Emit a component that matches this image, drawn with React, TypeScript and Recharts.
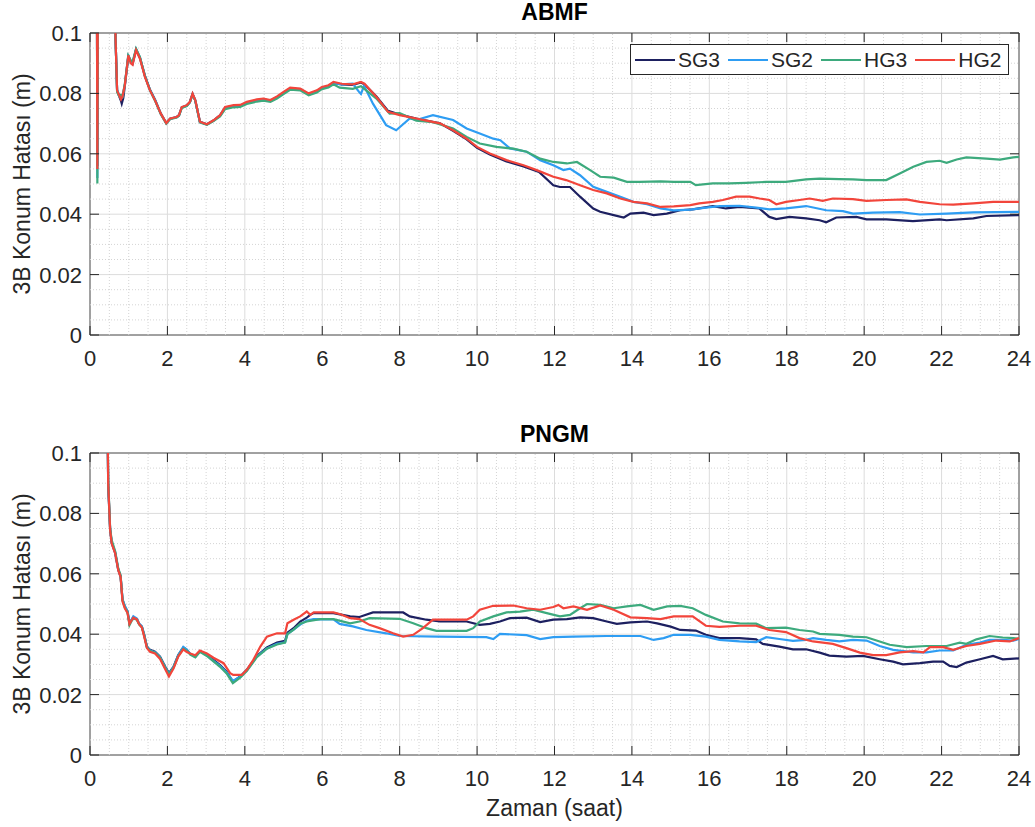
import React from "react";
import {
  LineChart,
  Line,
  XAxis,
  YAxis,
  CartesianGrid,
  ReferenceLine,
  ReferenceArea,
} from "recharts";

// time (saat) vs 3B position error (m)
const abmfSG3: [number, number][] = [
  [0.17, 0.16], [0.19, 0.056], [0.21, 0.16], [0.6, 0.15], [0.66, 0.098], [0.7, 0.081], [0.75, 0.0792],
  [0.8, 0.0775], [0.82, 0.0766], [0.86, 0.0785], [0.9, 0.0825], [0.99, 0.0922], [1.05, 0.0905], [1.1, 0.0898],
  [1.19, 0.0945], [1.29, 0.0918], [1.42, 0.0858], [1.55, 0.0812], [1.68, 0.0779], [1.83, 0.0733], [1.97, 0.0702],
  [2.07, 0.0716], [2.24, 0.0722], [2.3, 0.0728], [2.37, 0.0753], [2.5, 0.076], [2.58, 0.0771], [2.65, 0.0798],
  [2.72, 0.0776], [2.84, 0.0706], [3.02, 0.0698], [3.19, 0.071], [3.36, 0.0727], [3.49, 0.0752], [3.71, 0.0758],
  [3.88, 0.0759], [4.05, 0.0769], [4.31, 0.0777], [4.48, 0.078], [4.66, 0.0775], [4.83, 0.0787], [5.0, 0.0802],
  [5.17, 0.0816], [5.43, 0.0813], [5.65, 0.0797], [5.86, 0.0807], [5.99, 0.0818], [6.16, 0.0824], [6.29, 0.0835],
  [6.5, 0.083], [6.79, 0.0828], [7.0, 0.0836], [7.09, 0.083], [7.4, 0.079], [7.7, 0.0742], [8.0, 0.073],
  [8.43, 0.0717], [8.69, 0.071], [9.04, 0.0701], [9.38, 0.0676], [9.73, 0.0648], [10.0, 0.062], [10.33, 0.0598],
  [10.76, 0.0575], [11.2, 0.0558], [11.6, 0.054], [11.97, 0.0496], [12.14, 0.049], [12.4, 0.049], [12.66, 0.0458],
  [13.0, 0.0419], [13.18, 0.0408], [13.53, 0.0397], [13.79, 0.0389], [13.96, 0.0402], [14.3, 0.0405], [14.56, 0.0397],
  [14.9, 0.0402], [15.25, 0.0413], [15.57, 0.0416], [16.09, 0.0427], [16.43, 0.0419], [16.78, 0.0424], [17.29, 0.0419],
  [17.55, 0.0391], [17.73, 0.0384], [18.07, 0.0391], [18.5, 0.0386], [18.85, 0.038], [19.02, 0.0373], [19.28, 0.0389],
  [19.8, 0.0391], [20.06, 0.0383], [20.57, 0.0383], [21.26, 0.0377], [21.95, 0.0383], [22.13, 0.038], [22.82, 0.0386],
  [23.16, 0.0394], [24, 0.0397],
];

const abmfSG2: [number, number][] = [
  [0.17, 0.16], [0.19, 0.052], [0.21, 0.16], [0.6, 0.15], [0.66, 0.098], [0.7, 0.0812], [0.75, 0.0795],
  [0.8, 0.0782], [0.84, 0.0788], [0.9, 0.0828], [0.99, 0.0928], [1.05, 0.0906], [1.1, 0.09], [1.19, 0.0946],
  [1.29, 0.0919], [1.42, 0.0857], [1.55, 0.0811], [1.68, 0.0778], [1.83, 0.0732], [1.97, 0.0701], [2.07, 0.0716],
  [2.24, 0.0721], [2.3, 0.0727], [2.37, 0.0754], [2.5, 0.076], [2.58, 0.0771], [2.65, 0.0798], [2.72, 0.0777],
  [2.84, 0.0705], [3.02, 0.0697], [3.19, 0.071], [3.36, 0.0727], [3.49, 0.0753], [3.71, 0.0758], [3.88, 0.0759],
  [4.05, 0.0769], [4.31, 0.0777], [4.48, 0.078], [4.66, 0.0776], [4.83, 0.0787], [5.0, 0.0802], [5.17, 0.0816],
  [5.43, 0.0814], [5.65, 0.0797], [5.86, 0.0807], [5.99, 0.0818], [6.16, 0.0825], [6.29, 0.0834], [6.5, 0.083],
  [6.79, 0.0832], [6.95, 0.0805], [7.0, 0.0798], [7.08, 0.0825], [7.31, 0.0766], [7.65, 0.0695], [7.91, 0.0678],
  [8.0, 0.0688], [8.26, 0.0717], [8.43, 0.0712], [8.86, 0.0728], [9.38, 0.0712], [9.73, 0.0684], [10.07, 0.0667],
  [10.42, 0.065], [10.6, 0.0645], [10.85, 0.0618], [11.28, 0.0607], [11.63, 0.0579], [11.97, 0.0562], [12.23, 0.0546],
  [12.4, 0.0551], [12.66, 0.0529], [13.0, 0.0491], [13.35, 0.0474], [13.7, 0.0458], [14.04, 0.0441], [14.39, 0.0433],
  [14.74, 0.0419], [15.08, 0.0413], [15.51, 0.0415], [15.91, 0.0422], [16.26, 0.0427], [16.78, 0.0428], [17.21, 0.0422],
  [17.55, 0.0416], [17.98, 0.0419], [18.5, 0.0427], [19.02, 0.0413], [19.45, 0.041], [19.71, 0.0402], [20.23, 0.0405],
  [20.92, 0.0407], [21.44, 0.0399], [22.13, 0.0402], [22.82, 0.0406], [24, 0.0408],
];

const abmfHG3: [number, number][] = [
  [0.17, 0.16], [0.19, 0.0502], [0.21, 0.16], [0.6, 0.15], [0.66, 0.098], [0.7, 0.0805], [0.75, 0.0792],
  [0.8, 0.0795], [0.84, 0.079], [0.9, 0.0832], [0.99, 0.0925], [1.05, 0.091], [1.1, 0.0905], [1.19, 0.0948],
  [1.29, 0.092], [1.42, 0.0857], [1.55, 0.081], [1.68, 0.0776], [1.83, 0.0731], [1.97, 0.07], [2.07, 0.0715],
  [2.24, 0.072], [2.3, 0.0726], [2.37, 0.0752], [2.5, 0.0758], [2.58, 0.077], [2.65, 0.0797], [2.72, 0.0776],
  [2.84, 0.0704], [3.02, 0.0696], [3.19, 0.0708], [3.36, 0.0724], [3.49, 0.0748], [3.71, 0.0754], [3.88, 0.0755],
  [4.05, 0.0765], [4.31, 0.0773], [4.48, 0.0776], [4.66, 0.0772], [4.83, 0.0783], [5.0, 0.0798], [5.17, 0.0812],
  [5.43, 0.081], [5.65, 0.0794], [5.86, 0.0803], [5.99, 0.0814], [6.16, 0.082], [6.29, 0.083], [6.45, 0.0819],
  [6.79, 0.0815], [7.0, 0.0824], [7.4, 0.0783], [7.74, 0.0733], [8.0, 0.0735], [8.43, 0.071], [8.86, 0.0705],
  [9.38, 0.0684], [9.73, 0.0656], [10.07, 0.0634], [10.5, 0.0623], [10.94, 0.0617], [11.28, 0.0607], [11.63, 0.0584],
  [11.97, 0.0573], [12.32, 0.0568], [12.58, 0.0573], [12.92, 0.0546], [13.18, 0.0524], [13.53, 0.0521], [13.87, 0.0507],
  [14.2, 0.0507], [14.74, 0.0509], [15.08, 0.0507], [15.51, 0.0507], [15.65, 0.0496], [16.09, 0.0502], [16.52, 0.0502],
  [16.95, 0.0504], [17.47, 0.0507], [17.98, 0.0507], [18.5, 0.0515], [18.85, 0.0518], [19.36, 0.0516], [19.71, 0.0515],
  [20.06, 0.0513], [20.57, 0.0513], [20.92, 0.0535], [21.27, 0.0557], [21.61, 0.0573], [21.95, 0.0577], [22.13, 0.057],
  [22.39, 0.0581], [22.64, 0.0588], [23.16, 0.0584], [23.51, 0.0581], [23.85, 0.0588], [24, 0.059],
];

const abmfHG2: [number, number][] = [
  [0.17, 0.16], [0.19, 0.055], [0.21, 0.16], [0.6, 0.15], [0.66, 0.098], [0.7, 0.081], [0.75, 0.0795],
  [0.8, 0.078], [0.84, 0.079], [0.9, 0.0827], [0.99, 0.0926], [1.05, 0.09], [1.1, 0.0895], [1.19, 0.0943],
  [1.29, 0.0915], [1.42, 0.0854], [1.55, 0.081], [1.68, 0.0777], [1.83, 0.0733], [1.97, 0.0702], [2.07, 0.0717],
  [2.24, 0.0722], [2.3, 0.0728], [2.37, 0.0755], [2.5, 0.0761], [2.58, 0.0772], [2.65, 0.0799], [2.72, 0.0778],
  [2.84, 0.0706], [3.02, 0.0698], [3.19, 0.0711], [3.36, 0.0728], [3.49, 0.0755], [3.71, 0.0761], [3.88, 0.0762],
  [4.05, 0.0772], [4.31, 0.078], [4.48, 0.0783], [4.66, 0.0778], [4.83, 0.079], [5.0, 0.0805], [5.17, 0.0819],
  [5.43, 0.0816], [5.65, 0.08], [5.86, 0.081], [5.99, 0.0821], [6.16, 0.0827], [6.29, 0.0838], [6.5, 0.0832],
  [6.79, 0.083], [7.0, 0.0838], [7.09, 0.0832], [7.4, 0.0788], [7.7, 0.0739], [8.0, 0.0728], [8.43, 0.0717],
  [8.69, 0.071], [9.04, 0.0701], [9.38, 0.0678], [9.73, 0.065], [10.0, 0.0623], [10.33, 0.0601], [10.76, 0.0579],
  [11.2, 0.0562], [11.54, 0.0546], [11.97, 0.0524], [12.3, 0.0513], [12.66, 0.0496], [13.0, 0.048], [13.35, 0.0469],
  [13.7, 0.0452], [14.04, 0.0441], [14.39, 0.0436], [14.74, 0.0424], [15.08, 0.0426], [15.51, 0.043], [15.74, 0.0436],
  [16.09, 0.0441], [16.35, 0.0447], [16.69, 0.0458], [17.04, 0.0458], [17.3, 0.0452], [17.55, 0.0447], [17.73, 0.0433],
  [17.98, 0.0441], [18.33, 0.0447], [18.59, 0.0452], [18.93, 0.0444], [19.19, 0.0452], [19.71, 0.045], [20.06, 0.0444],
  [20.57, 0.0447], [21.09, 0.0449], [21.44, 0.0441], [21.95, 0.0433], [22.3, 0.0432], [22.82, 0.0436], [23.33, 0.0441],
  [24, 0.0441],
];

const pngmSG3: [number, number][] = [
  [0.43, 0.14], [0.47, 0.089], [0.52, 0.0746], [0.56, 0.0702], [0.65, 0.0669], [0.73, 0.0613], [0.79, 0.0591],
  [0.84, 0.0514], [0.9, 0.0492], [0.97, 0.0475], [1.02, 0.0436], [1.08, 0.0448], [1.12, 0.0456], [1.21, 0.045],
  [1.27, 0.0434], [1.34, 0.0425], [1.4, 0.0398], [1.47, 0.0359], [1.55, 0.0348], [1.68, 0.0342], [1.81, 0.0326],
  [1.94, 0.0293], [2.04, 0.0271], [2.16, 0.0293], [2.28, 0.0331], [2.41, 0.0356], [2.5, 0.0348], [2.59, 0.0334],
  [2.72, 0.0326], [2.84, 0.0344], [3.02, 0.0332], [3.19, 0.0315], [3.36, 0.0298], [3.53, 0.0276], [3.69, 0.0243],
  [3.88, 0.026], [4.05, 0.0282], [4.31, 0.0328], [4.57, 0.0356], [4.83, 0.0372], [5.04, 0.0378], [5.1, 0.0405],
  [5.26, 0.042], [5.43, 0.0442], [5.6, 0.0455], [5.69, 0.0464], [5.78, 0.047], [6.29, 0.047], [6.72, 0.0459],
  [6.96, 0.0457], [7.31, 0.0472], [8.09, 0.0472], [8.26, 0.0459], [8.69, 0.0448], [9.04, 0.0442], [9.73, 0.0442],
  [10.07, 0.0431], [10.33, 0.0434], [10.59, 0.0442], [10.85, 0.0453], [11.28, 0.0455], [11.63, 0.044], [11.97, 0.0448],
  [12.32, 0.045], [12.66, 0.0456], [13.0, 0.0453], [13.35, 0.0442], [13.61, 0.0434], [13.96, 0.0439], [14.39, 0.0442],
  [14.65, 0.0436], [15.0, 0.0425], [15.25, 0.0414], [15.65, 0.0412], [15.91, 0.0398], [16.26, 0.0387], [16.78, 0.0387],
  [17.21, 0.0383], [17.38, 0.0368], [17.81, 0.0359], [18.16, 0.035], [18.5, 0.035], [18.85, 0.0339], [19.1, 0.0329],
  [19.54, 0.0326], [19.97, 0.0328], [20.4, 0.0317], [20.75, 0.0309], [21.0, 0.03], [21.44, 0.0304], [21.78, 0.0309],
  [22.04, 0.0309], [22.21, 0.0295], [22.39, 0.0291], [22.64, 0.0306], [22.99, 0.0317], [23.33, 0.0328], [23.58, 0.0317],
  [24, 0.032],
];

const pngmSG2: [number, number][] = [
  [0.43, 0.14], [0.47, 0.09], [0.52, 0.0748], [0.56, 0.0705], [0.65, 0.0672], [0.73, 0.0615], [0.79, 0.0593],
  [0.84, 0.0516], [0.9, 0.0494], [0.97, 0.0476], [1.02, 0.0438], [1.08, 0.045], [1.12, 0.0459], [1.21, 0.0452],
  [1.27, 0.0435], [1.34, 0.0426], [1.4, 0.0398], [1.47, 0.0358], [1.55, 0.0346], [1.68, 0.034], [1.81, 0.0324],
  [1.94, 0.0291], [2.04, 0.0268], [2.16, 0.0292], [2.28, 0.033], [2.41, 0.0358], [2.5, 0.0349], [2.59, 0.0335],
  [2.72, 0.0325], [2.84, 0.0343], [3.02, 0.033], [3.19, 0.0312], [3.36, 0.0295], [3.53, 0.0273], [3.69, 0.0245],
  [3.88, 0.0259], [4.05, 0.028], [4.31, 0.0326], [4.57, 0.0353], [4.83, 0.0368], [5.04, 0.0373], [5.1, 0.04],
  [5.26, 0.0415], [5.43, 0.0432], [5.6, 0.0445], [5.78, 0.045], [6.29, 0.0449], [6.45, 0.0434], [6.79, 0.0426],
  [7.14, 0.0414], [7.65, 0.0403], [8.0, 0.0394], [9.0, 0.0392], [10.24, 0.039], [10.42, 0.0384], [10.59, 0.0401],
  [11.28, 0.0397], [11.63, 0.0384], [11.97, 0.039], [12.49, 0.0392], [13.35, 0.0394], [14.22, 0.0394], [14.56, 0.0381],
  [14.82, 0.0387], [15.08, 0.0398], [15.51, 0.0398], [15.91, 0.0392], [16.26, 0.0381], [16.78, 0.0376], [17.21, 0.0374],
  [17.47, 0.039], [17.81, 0.0384], [18.16, 0.0378], [18.5, 0.0381], [18.68, 0.0387], [19.02, 0.0381], [19.36, 0.0376],
  [19.71, 0.0381], [20.06, 0.0379], [20.4, 0.0361], [20.75, 0.0348], [21.27, 0.034], [21.61, 0.034], [21.95, 0.0346],
  [22.3, 0.0346], [22.64, 0.0365], [22.99, 0.0372], [23.24, 0.0381], [23.58, 0.0381], [23.85, 0.0379], [24, 0.0384],
];

const pngmHG3: [number, number][] = [
  [0.43, 0.14], [0.47, 0.091], [0.52, 0.075], [0.56, 0.0712], [0.65, 0.0675], [0.73, 0.0618], [0.79, 0.0595],
  [0.84, 0.0512], [0.9, 0.0488], [0.97, 0.0472], [1.02, 0.043], [1.08, 0.0445], [1.12, 0.0452], [1.21, 0.0448],
  [1.27, 0.0432], [1.34, 0.0423], [1.4, 0.0396], [1.47, 0.0356], [1.55, 0.0345], [1.68, 0.0339], [1.81, 0.0322],
  [1.94, 0.029], [2.04, 0.0266], [2.16, 0.029], [2.28, 0.0328], [2.41, 0.0352], [2.5, 0.0346], [2.59, 0.0332],
  [2.72, 0.0323], [2.84, 0.0342], [3.02, 0.0328], [3.19, 0.031], [3.36, 0.0292], [3.53, 0.027], [3.69, 0.0238],
  [3.88, 0.0256], [4.05, 0.0278], [4.31, 0.0324], [4.57, 0.0352], [4.83, 0.0366], [5.04, 0.0372], [5.1, 0.04],
  [5.26, 0.0415], [5.43, 0.0435], [5.6, 0.0442], [5.95, 0.045], [6.29, 0.045], [6.72, 0.0436], [6.96, 0.0442],
  [7.22, 0.0453], [8.0, 0.0451], [8.35, 0.0436], [8.69, 0.042], [8.95, 0.0411], [9.73, 0.0411], [9.9, 0.042],
  [10.07, 0.0442], [10.42, 0.0459], [10.76, 0.0472], [11.11, 0.0475], [11.45, 0.0481], [11.8, 0.047], [12.14, 0.0459],
  [12.4, 0.0464], [12.66, 0.0486], [12.84, 0.05], [13.18, 0.0497], [13.53, 0.0486], [13.87, 0.0492], [14.22, 0.0497],
  [14.56, 0.0481], [14.91, 0.0492], [15.25, 0.0494], [15.57, 0.0486], [15.91, 0.0464], [16.35, 0.0442], [16.78, 0.0436],
  [17.21, 0.0435], [17.47, 0.042], [17.98, 0.0422], [18.33, 0.0414], [18.68, 0.0409], [18.85, 0.0401], [19.36, 0.0398],
  [19.71, 0.0392], [20.06, 0.039], [20.4, 0.0376], [20.66, 0.0365], [21.1, 0.0357], [21.61, 0.0361], [22.13, 0.0361],
  [22.47, 0.0372], [22.64, 0.0368], [22.9, 0.0383], [23.24, 0.0394], [23.58, 0.0389], [23.85, 0.0387], [24, 0.0385],
];

const pngmHG2: [number, number][] = [
  [0.43, 0.14], [0.47, 0.09], [0.52, 0.0745], [0.56, 0.07], [0.65, 0.0668], [0.73, 0.0612], [0.79, 0.059],
  [0.84, 0.0508], [0.9, 0.0486], [0.97, 0.047], [1.02, 0.0434], [1.08, 0.0447], [1.12, 0.0455], [1.21, 0.0449],
  [1.27, 0.0433], [1.34, 0.0422], [1.4, 0.0392], [1.47, 0.0354], [1.55, 0.0342], [1.68, 0.0336], [1.81, 0.0318],
  [1.94, 0.0285], [2.04, 0.026], [2.16, 0.0287], [2.28, 0.0326], [2.41, 0.035], [2.5, 0.0341], [2.59, 0.0336],
  [2.72, 0.033], [2.84, 0.0346], [3.02, 0.0336], [3.19, 0.0322], [3.45, 0.0304], [3.62, 0.0271], [3.7, 0.0265],
  [3.92, 0.0265], [4.05, 0.0282], [4.22, 0.0315], [4.4, 0.0359], [4.57, 0.0392], [4.83, 0.0403], [5.04, 0.0403],
  [5.1, 0.0436], [5.26, 0.0448], [5.43, 0.0459], [5.6, 0.0475], [5.69, 0.0464], [5.78, 0.0472], [6.29, 0.0472],
  [6.47, 0.0466], [6.72, 0.0453], [6.96, 0.045], [7.22, 0.0431], [7.48, 0.042], [7.83, 0.0403], [8.09, 0.0392],
  [8.35, 0.0398], [8.6, 0.042], [8.86, 0.0448], [9.3, 0.0448], [9.73, 0.0448], [9.9, 0.0459], [10.07, 0.0481],
  [10.42, 0.0494], [10.94, 0.0495], [11.28, 0.0486], [11.63, 0.0481], [11.97, 0.049], [12.1, 0.0497], [12.23, 0.0486],
  [12.49, 0.0492], [12.84, 0.0481], [13.18, 0.0495], [13.53, 0.0481], [13.96, 0.0456], [14.39, 0.0453], [14.74, 0.045],
  [15.08, 0.0459], [15.57, 0.0459], [15.91, 0.0428], [16.26, 0.0424], [16.78, 0.0428], [17.21, 0.0428], [17.55, 0.0414],
  [17.98, 0.0407], [18.33, 0.0387], [18.68, 0.0376], [19.19, 0.0368], [19.54, 0.0354], [19.89, 0.0339], [20.23, 0.0331],
  [20.57, 0.0331], [20.92, 0.034], [21.27, 0.0344], [21.53, 0.034], [21.7, 0.0357], [22.04, 0.0357], [22.3, 0.0348],
  [22.64, 0.0361], [22.99, 0.0368], [23.41, 0.0379], [23.76, 0.0376], [24, 0.0387],
];

const seriesNames = ["SG3", "SG2", "HG3", "HG2"];
const seriesColors = ["#1d2060", "#2e9df3", "#3daa7d", "#f2453b"];

const xTicks = [0, 2, 4, 6, 8, 10, 12, 14, 16, 18, 20, 22, 24];
const yTicks = [0, 0.02, 0.04, 0.06, 0.08, 0.1];
const minorX: number[] = [];
for (let h = 0.5; h < 24; h += 0.5) if (h % 2 !== 0) minorX.push(h);
const minorY: number[] = [];
for (let i = 1; i < 20; i++) if (i % 4 !== 0) minorY.push(i * 0.005);

const W = 1035;
const PLOT_LEFT = 90;
const PLOT_RIGHT = 1019;
const PLOT_TOP = 33;
const PLOT_BOTTOM = 335;
const TICK_LEN = 9;
const FONT = "'Liberation Sans', Arial, Helvetica, sans-serif";
const INK = "#262626";

const toPts = (arr: [number, number][]) => arr.map(([t, v]) => ({ t, v }));

function XTick(props: any) {
  const { x, payload } = props;
  return (
    <g>
      <line x1={x} x2={x} y1={PLOT_BOTTOM} y2={PLOT_BOTTOM - TICK_LEN} stroke={INK} />
      <line x1={x} x2={x} y1={PLOT_TOP} y2={PLOT_TOP + TICK_LEN} stroke={INK} />
      <text x={x} y={PLOT_BOTTOM + 31} textAnchor="middle" fontSize={22} fontFamily={FONT} fill={INK}>
        {payload.value}
      </text>
    </g>
  );
}

function YTick(props: any) {
  const { y, payload } = props;
  return (
    <g>
      <line x1={PLOT_LEFT} x2={PLOT_LEFT + TICK_LEN} y1={y} y2={y} stroke={INK} />
      <line x1={PLOT_RIGHT - TICK_LEN} x2={PLOT_RIGHT} y1={y} y2={y} stroke={INK} />
      <text x={PLOT_LEFT - 8} y={y + 8} textAnchor="end" fontSize={22} fontFamily={FONT} fill={INK}>
        {String(payload.value)}
      </text>
    </g>
  );
}

function Panel({ height, bottom, series }: { height: number; bottom: number; series: [number, number][][] }) {
  return (
    <LineChart width={W} height={height} margin={{ top: PLOT_TOP, right: W - PLOT_RIGHT, bottom, left: 0 }}>
      {minorX.map((v) => (
        <ReferenceLine key={"mx" + v} x={v} stroke="#d4d4d4" strokeDasharray="1 2" />
      ))}
      {minorY.map((v) => (
        <ReferenceLine key={"my" + v} y={v} stroke="#d4d4d4" strokeDasharray="1 2" />
      ))}
      <CartesianGrid stroke="#dcdcdc" />
      <XAxis
        dataKey="t"
        type="number"
        domain={[0, 24]}
        ticks={xTicks}
        interval={0}
        height={30}
        axisLine={false}
        tickLine={false}
        tick={(p: any) => <XTick {...p} />}
      />
      <YAxis
        type="number"
        domain={[0, 0.1]}
        ticks={yTicks}
        interval={0}
        width={PLOT_LEFT}
        allowDataOverflow
        axisLine={false}
        tickLine={false}
        tick={(p: any) => <YTick {...p} />}
      />
      {series.map((s, i) => (
        <Line
          key={seriesNames[i]}
          data={toPts(s)}
          dataKey="v"
          name={seriesNames[i]}
          type="linear"
          stroke={seriesColors[i]}
          strokeWidth={2.2}
          dot={false}
          isAnimationActive={false}
        />
      ))}
      <ReferenceArea x1={0} x2={24} y1={0} y2={0.1} fill="none" stroke="#555555" strokeWidth={1} />
    </LineChart>
  );
}

const textBase: React.CSSProperties = {
  position: "absolute",
  fontFamily: FONT,
  color: INK,
  whiteSpace: "nowrap",
  lineHeight: 1,
};

function YLabel({ cy }: { cy: number }) {
  return (
    <div
      style={{
        ...textBase,
        left: 22,
        top: cy,
        fontSize: 23,
        transform: "translate(-50%, -50%) rotate(-90deg)",
      }}
    >
      3B Konum Hatası (m)
    </div>
  );
}

function Title({ text, top }: { text: string; top: number }) {
  return (
    <div
      style={{
        ...textBase,
        left: PLOT_LEFT,
        width: PLOT_RIGHT - PLOT_LEFT,
        top,
        textAlign: "center",
        fontSize: 23,
        fontWeight: "bold",
        color: "#000",
      }}
    >
      {text}
    </div>
  );
}

function LegendBox() {
  return (
    <div
      style={{
        position: "absolute",
        left: 630,
        top: 44,
        width: 373,
        height: 29,
        border: "1px solid " + INK,
        background: "#fff",
        display: "flex",
        alignItems: "center",
        paddingLeft: 4,
        boxSizing: "content-box",
        fontFamily: FONT,
        fontSize: 21,
        color: INK,
      }}
    >
      {seriesNames.map((n, i) => (
        <div key={n} style={{ display: "flex", alignItems: "center", marginRight: 8 }}>
          <span style={{ display: "inline-block", width: 40, height: 2, background: seriesColors[i], marginRight: 3 }} />
          <span>{n}</span>
        </div>
      ))}
    </div>
  );
}

export default function App() {
  return (
    <div style={{ position: "absolute", left: 0, top: 0, width: W, height: 827, background: "#fff" }}>
      <div style={{ position: "absolute", left: 0, top: 0 }}>
        <Panel height={420} bottom={55} series={[abmfSG3, abmfSG2, abmfHG3, abmfHG2]} />
      </div>
      <div style={{ position: "absolute", left: 0, top: 420 }}>
        <Panel height={407} bottom={42} series={[pngmSG3, pngmSG2, pngmHG3, pngmHG2]} />
      </div>
      <Title text="ABMF" top={1} />
      <Title text="PNGM" top={423} />
      <YLabel cy={184} />
      <YLabel cy={604} />
      <div style={{ ...textBase, left: PLOT_LEFT, width: PLOT_RIGHT - PLOT_LEFT, top: 797, textAlign: "center", fontSize: 23 }}>
        Zaman (saat)
      </div>
      <LegendBox />
    </div>
  );
}
